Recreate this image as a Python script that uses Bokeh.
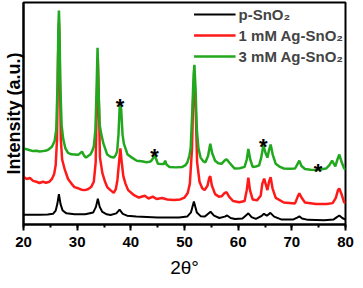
from bokeh.plotting import figure
from bokeh.models import Legend, LegendItem, SingleIntervalTicker, FixedTicker, Range1d
from bokeh.core.properties import value
from bokeh.embed import file_html
from bokeh.resources import INLINE

# ---- data (2theta in degrees, intensity in a.u.) ----
p_x = [20.0, 21.5, 23.0, 24.5, 25.5, 26.0, 26.3, 26.6, 26.9, 27.3, 28.0, 29.5, 31.5, 33.0, 33.5, 33.85,
       34.2, 34.7, 35.5, 36.2, 37.3, 37.9, 38.5, 39.3, 41.0, 43.0, 45.0, 47.0, 49.0, 50.5, 51.2, 51.75,
       52.3, 53.0, 53.8, 54.3, 54.85, 55.5, 56.5, 57.5, 57.95, 58.6, 59.4, 60.8, 61.5, 61.9, 62.5, 63.3,
       64.3, 64.8, 65.35, 66.0, 66.7, 68.0, 70.3, 71.0, 71.4, 71.9, 73.0, 76.0, 77.8, 78.4, 78.85, 79.4, 80.0]
p_y = [10.5, 10.5, 10.5, 10.7, 11.5, 15, 22, 32.7, 22, 15, 12, 11, 11, 13, 19, 27.7,
       19, 13.5, 11, 10.3, 12, 16, 11.5, 9.5, 8.5, 8, 7.5, 7.5, 7.5, 8.5, 13, 24.7,
       13, 9, 8.5, 11, 13.7, 9.5, 7, 8.5, 9.7, 7, 6, 6.5, 10, 12, 8, 6,
       9, 11.5, 9.5, 12.5, 8.5, 5.5, 5.5, 7.5, 8.7, 6.5, 5, 4.7, 5.5, 8, 9.7, 7, 5.3]

ag1_x = [20.0, 20.6, 21.2, 21.8, 22.4, 23.0, 23.6, 24.2, 24.8, 25.3, 25.7, 26.0, 26.25, 26.45, 26.6, 26.75,
         26.95, 27.2, 27.7, 28.3, 29.0, 29.5, 30.2, 30.8, 31.4, 32.0, 32.6, 33.1, 33.45, 33.7, 33.85, 34.0,
         34.25, 34.7, 35.2, 35.6, 36.2, 36.8, 37.2, 37.5, 37.8, 38.05, 38.3, 38.6, 39.0, 39.5, 40.5, 41.5,
         42.6, 43.3, 44.1, 44.8, 45.8, 46.8, 48.0, 49.2, 50.0, 50.6, 51.0, 51.4, 51.65, 51.85, 52.05, 52.35,
         52.8, 53.3, 53.75, 54.3, 54.6, 54.8, 55.1, 55.7, 56.4, 56.9, 57.5, 57.85, 58.3, 59.05, 60.2, 61.2,
         61.6, 61.9, 62.2, 62.7, 63.5, 64.2, 64.5, 64.85, 65.2, 65.45, 65.75, 66.05, 66.4, 67.0, 68.5, 70.6,
         71.1, 71.4, 71.8, 72.45, 74.5, 76.5, 77.6, 78.2, 78.6, 78.85, 79.3, 79.75, 80.0]
ag1_y = [51.3, 49, 50, 47, 46, 44.7, 46, 45, 46, 49, 54, 64, 92, 182, 217, 182,
         92, 70, 59, 49, 43.5, 40.3, 39, 37.5, 37, 38, 40.3, 46, 67, 142, 179, 142,
         72, 55.3, 46, 40.3, 37, 34, 38, 48, 67, 82, 67, 52, 44, 37, 32, 29,
         31, 28, 30, 27.5, 28.5, 27, 26.5, 27, 29, 34, 44, 82, 142, 160, 132, 67,
         46, 39, 37, 42, 50, 52, 42, 32.7, 30, 30.3, 34, 34.7, 30, 25.3, 24, 25.3,
         37, 50.3, 37, 27, 26, 31, 44, 49.3, 42, 37, 46, 51, 39, 28.7, 23.7, 22.7,
         30, 33.7, 29, 23.7, 22, 22, 23, 28.7, 37, 38.7, 32, 23.7, 23]

ag3_x = [20.0, 20.6, 21.2, 21.8, 22.4, 23.0, 23.6, 24.05, 24.6, 25.3, 25.8, 26.1, 26.35, 26.5, 26.6, 26.7,
         26.85, 27.1, 27.4, 27.8, 28.3, 28.9, 29.5, 30.2, 30.9, 31.3, 31.65, 32.1, 32.45, 32.8, 33.1, 33.4,
         33.6, 33.8, 34.0, 34.2, 34.5, 34.9, 35.6, 36.2, 36.85, 37.2, 37.45, 37.7, 37.9, 38.05, 38.2, 38.45,
         38.7, 39.0, 39.4, 40.2, 41.1, 42.0, 42.9, 43.5, 43.85, 44.2, 44.45, 44.75, 45.05, 45.7, 46.15, 46.4,
         46.65, 47.2, 48.4, 49.6, 50.2, 50.55, 50.9, 51.15, 51.45, 51.7, 51.85, 52.05, 52.3, 52.6, 53.0, 53.5,
         53.9, 54.4, 54.8, 55.15, 55.7, 56.3, 56.9, 57.5, 57.85, 58.3, 59.05, 59.35, 60.3, 61.2, 61.6, 61.9,
         62.25, 62.7, 63.3, 63.9, 64.3, 64.7, 65.1, 65.45, 65.75, 66.05, 66.45, 67.0, 67.8, 68.5, 69.5, 70.6,
         71.05, 71.4, 71.8, 72.45, 73.5, 74.6, 75.5, 76.4, 77.0, 77.5, 78.1, 78.5, 78.85, 79.3, 79.7, 80.0]
ag3_y = [82, 81, 80, 79, 79.3, 78.5, 79, 79.3, 80.5, 83.7, 90, 102, 152, 212, 230.3, 212,
         152, 107, 92, 82, 77, 75.5, 75.3, 75, 78.5, 74, 72, 74, 75.3, 79, 84, 102,
         142, 190.3, 142, 107, 97, 87, 75.3, 73, 72, 75, 78.7, 97, 124, 129.3, 124, 97,
         87, 82, 75.3, 72, 68.7, 68, 67, 67.5, 68.7, 72, 74.3, 70, 65.3, 65, 65, 68.7,
         64.5, 62, 61.5, 62, 64, 67, 74, 82, 122, 162, 172, 147, 102, 82, 72, 68,
         67, 74, 87, 77, 68.7, 66, 65.3, 69, 70.3, 67, 62, 60.3, 60.5, 62, 70, 81.3,
         70, 62, 62.5, 63.7, 72, 85.3, 77, 72, 80, 86, 75, 65.3, 62, 60.3, 60, 60.3,
         65, 68.7, 63, 59.7, 59, 58.7, 59.5, 60.3, 64, 68.7, 62.7, 70, 75.3, 67, 61, 58.7]

# Ag reflections marked with asterisks
star_x = [38.0, 44.4, 64.7, 74.9]
star_y = [134, 79.3, 90.3, 63.7]

series_labels = ["p-SnO\u2082", "1 mM Ag-SnO\u2082", "3 mM Ag-SnO\u2082"]
x_title = "2\u03b8\u00b0"
y_title = "Intensity (a.u.)"
x_ticks_interval = 10

FONT = "Liberation Sans"

p = figure(width=355, height=280, x_range=Range1d(20, 80), y_range=Range1d(0, 239),
           output_backend="svg", toolbar_location=None,
           min_border_left=0, min_border_right=10, min_border_top=2, min_border_bottom=0)
p.background_fill_color = "white"
p.border_fill_color = "white"
p.xgrid.grid_line_color = None
p.ygrid.grid_line_color = None
p.outline_line_color = "black"
p.outline_line_width = 2
p.outline_line_alpha = 1

r0 = p.line(p_x, p_y, line_color="black", line_width=2)
r1 = p.line(ag1_x, ag1_y, line_color="#ff1a1a", line_width=2.5)
r2 = p.line(ag3_x, ag3_y, line_color="#22a81e", line_width=2.5)

p.text(x=star_x, y=star_y, text=["*"] * len(star_x), text_font=value(FONT),
       text_font_size="22px", text_font_style="bold", text_align="center",
       text_baseline="middle", text_color="black", y_offset=6)

xa = p.xaxis[0]
xa.ticker = SingleIntervalTicker(interval=x_ticks_interval, num_minor_ticks=2)
xa.axis_line_width = 2
xa.major_tick_line_width = 2
xa.minor_tick_line_width = 2
xa.major_tick_in = 0
xa.major_tick_out = 6
xa.minor_tick_in = 0
xa.minor_tick_out = 3
xa.major_label_text_font = FONT
xa.major_label_text_font_style = "bold"
xa.major_label_text_font_size = "15px"
xa.major_label_text_color = "black"
xa.major_label_text_line_height = 0.5
xa.major_label_standoff = 6
xa.axis_label = x_title
xa.axis_label_text_font = FONT
xa.axis_label_text_font_style = "normal"
xa.axis_label_text_font_size = "19px"
xa.axis_label_text_color = "black"
xa.axis_label_text_line_height = 0.3
xa.axis_label_standoff = 7

ya = p.yaxis[0]
ya.ticker = FixedTicker(ticks=[])
ya.axis_line_width = 2
ya.major_tick_line_color = None
ya.minor_tick_line_color = None
ya.major_tick_out = 0
ya.major_tick_in = 0
ya.major_label_standoff = 0
ya.axis_label = y_title
ya.axis_label_text_font = FONT
ya.axis_label_text_font_style = "bold"
ya.axis_label_text_font_size = "18px"
ya.axis_label_text_color = "black"
ya.axis_label_text_line_height = 0.7
ya.axis_label_standoff = 0

legend = Legend(items=[LegendItem(label=series_labels[0], renderers=[r0]),
                       LegendItem(label=series_labels[1], renderers=[r1]),
                       LegendItem(label=series_labels[2], renderers=[r2])],
                location="top_right", glyph_width=42, glyph_height=20, label_height=20,
                label_text_font=FONT, label_text_font_size="15px", label_text_font_style="bold",
                label_standoff=3, spacing=1, padding=0, margin=2,
                border_line_color=None, background_fill_alpha=0)
p.add_layout(legend)

open("out.html", "w").write(file_html(p, INLINE))
